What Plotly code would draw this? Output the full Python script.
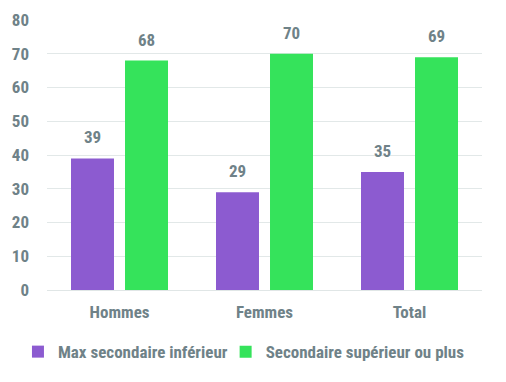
import plotly.graph_objects as go

categories = ["Hommes", "Femmes", "Total"]
series_names = ["Max secondaire inférieur", "Secondaire supérieur ou plus"]
max_sec_inf = [39, 29, 35]
sec_sup_plus = [68, 70, 69]
y_ticks = [0, 10, 20, 30, 40, 50, 60, 70, 80]

FONT = "Roboto Condensed, Roboto, sans-serif"
TXT = "#6f8288"
colors = ["#8c5bd0", "#35e35b"]
legend_ids = ["legend", "legend2"]

fig = go.Figure()
for name, vals, col, lg in zip(series_names, [max_sec_inf, sec_sup_plus], colors, legend_ids):
    fig.add_trace(go.Bar(
        x=categories, y=vals, name=name, legend=lg,
        marker=dict(color=col, line=dict(width=0)),
        hoverinfo="skip",
    ))

# value labels above bars (offset to the bar position within each group)
for shift, vals in zip([-27, 27], [max_sec_inf, sec_sup_plus]):
    for c, v in zip(categories, vals):
        fig.add_annotation(x=c, y=v, xref="x", yref="y", text=str(v), showarrow=False,
                           xshift=shift, yanchor="bottom", yshift=9,
                           font=dict(family=FONT, size=17, color=TXT, weight="bold"))

legend_style = dict(orientation="h", xref="container", yref="container",
                    xanchor="left", y=0.080, yanchor="middle",
                    bgcolor="rgba(0,0,0,0)", borderwidth=0,
                    font=dict(family=FONT, size=17, color=TXT, weight="bold"),
                    itemwidth=30, tracegroupgap=0)

# the page body adds an 8px offset, so the figure is sized to fill the rest of the window
fig.update_layout(
    width=498, height=374,
    margin=dict(l=39, r=24, t=12, b=92, autoexpand=False),
    paper_bgcolor="white", plot_bgcolor="white",
    barmode="group", bargap=0.255, bargroupgap=0.204,
    font=dict(family=FONT, size=17, color=TXT),
    showlegend=True,
    legend=dict(x=0.02, **legend_style),
    legend2=dict(x=0.437, **legend_style),
)
fig.update_xaxes(showgrid=False, showline=True, linecolor="#e0e6e6", linewidth=1,
                 ticks="", ticklabelstandoff=7, automargin=False,
                 tickfont=dict(family=FONT, size=17, color=TXT, weight="bold"))
fig.update_yaxes(range=[0, 80], tickvals=y_ticks, showgrid=True, gridcolor="#e2e8e8",
                 gridwidth=1, zeroline=False, showline=False, ticks="",
                 ticklabelstandoff=17, automargin=False,
                 tickfont=dict(family=FONT, size=17, color=TXT, weight="bold"))

fig.write_html("out.html")
